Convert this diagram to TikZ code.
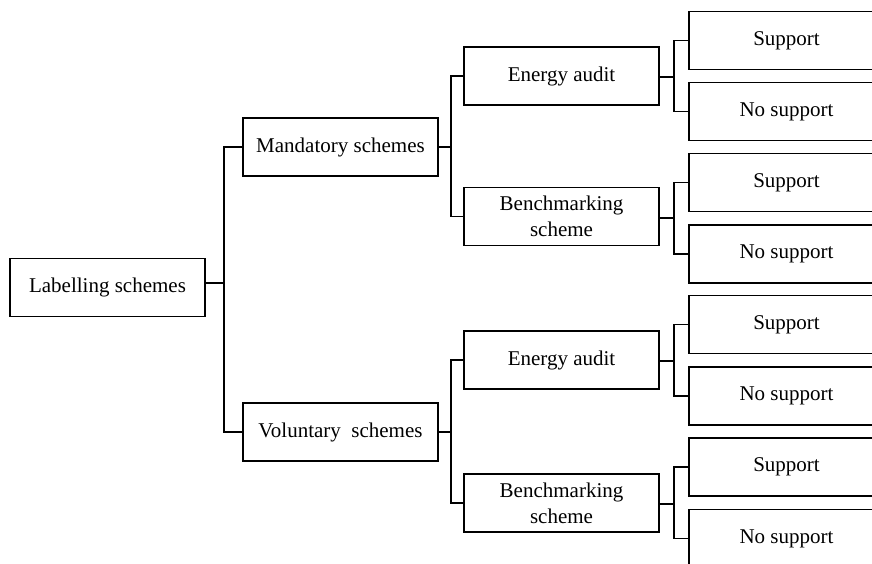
\documentclass[tikz,border=0pt]{standalone}
\usepackage{fontspec}
\setmainfont{Liberation Serif}
\begin{document}
\begin{tikzpicture}[x=1pt,y=-1pt,
  box/.style={draw,line width=1.6pt,rectangle,inner sep=0pt,align=center,
    font=\fontsize{21}{26}\selectfont,minimum width=195pt,minimum height=58pt},
  link/.style={line width=1.6pt}]
\useasboundingbox (0,0) rectangle (872,563);
\clip (0,0) rectangle (872,563);

% root
\node[box] (L) at (107.5,287.5) {Labelling schemes};

% second level
\node[box] (M) at (340.5,147) {Mandatory schemes};
\node[box] (V) at (340.5,432) {Voluntary\ \ schemes};

% third level
\node[box] (E1) at (561.5,76) {Energy audit};
\node[box] (B1) at (561.5,216.5) {Benchmarking\\scheme};
\node[box] (E2) at (561.5,360) {Energy audit};
\node[box] (B2) at (561.5,503) {Benchmarking\\scheme};

% leaves (run past the right and bottom edges)
\node[box] (S1) at (786.5,40.5) {Support};
\node[box] (N1) at (786.5,111.5) {No support};
\node[box] (S2) at (786.5,182.5) {Support};
\node[box] (N2) at (786.5,254) {No support};
\node[box] (S3) at (786.5,324.5) {Support};
\node[box] (N3) at (786.5,396) {No support};
\node[box] (S4) at (786.5,467) {Support};
\node[box] (N4) at (786.5,538.5) {No support};

% junction points
\coordinate (j0) at (224,283);
\coordinate (jM) at (451,147);
\coordinate (jV) at (451,432);
\coordinate (jE1) at (674,77);
\coordinate (jB1) at (674,218);
\coordinate (jE2) at (674,361);
\coordinate (jB2) at (674,504);

% connectors
\draw[link] (L.east |- j0) -- (j0);
\draw[link] (M.west) -| (j0) |- (V.west);

\draw[link] (M.east) -- (jM);
\draw[link] (E1.west) -| (jM) |- (B1.west);
\draw[link] (V.east) -- (jV);
\draw[link] (E2.west) -| (jV) |- (B2.west);

\draw[link] (E1.east |- jE1) -- (jE1);
\draw[link] (S1.west) -| (jE1) |- (N1.west);
\draw[link] (B1.east |- jB1) -- (jB1);
\draw[link] (S2.west) -| (jB1) |- (N2.west);
\draw[link] (E2.east |- jE2) -- (jE2);
\draw[link] (S3.west) -| (jE2) |- (N3.west);
\draw[link] (B2.east |- jB2) -- (jB2);
\draw[link] (S4.west) -| (jB2) |- (N4.west);
\end{tikzpicture}
\end{document}
